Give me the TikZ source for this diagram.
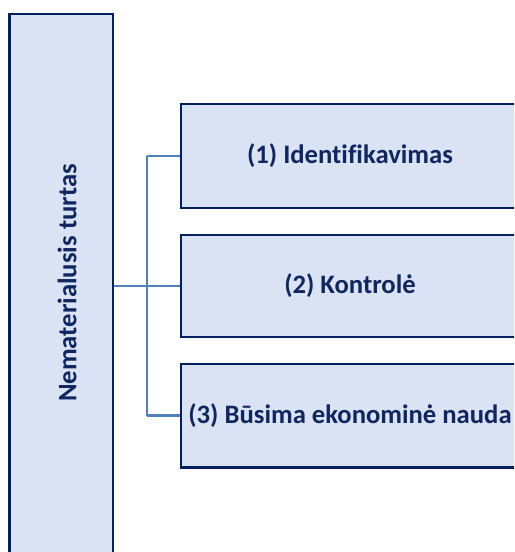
\documentclass[tikz,border=0pt]{standalone}
\usepackage{fontspec}
\setmainfont{Carlito}[Ligatures=NoCommon]
\definecolor{boxline}{RGB}{0,32,96}
\definecolor{boxfill}{RGB}{218,227,243}
\definecolor{linkline}{RGB}{79,129,189}
\definecolor{boxtext}{RGB}{15,38,96}
\tikzset{
  itembox/.style={rectangle, draw=boxline, fill=boxfill, line width=2.2pt, inner sep=0pt},
  itemtext/.style={text=boxtext, font=\fontsize{20}{24}\selectfont\bfseries},
  link/.style={draw=linkline, line width=1.6pt}
}
\begin{document}
\begin{tikzpicture}[x=0.75pt,y=-0.75pt]
\useasboundingbox (0,0) rectangle (514,552);
\clip (0,0) rectangle (514,552);
\node[itembox, minimum width=77.6pt, minimum height=420pt] (box0) at (61.25,294){};
\node[itemtext, rotate=90] (lbl0) at (67,283){Nematerialusis turtas};
\node[itembox, minimum width=253.5pt, minimum height=78pt, itemtext] (box1) at (350,156){(1) Identifikavimas};
\node[itembox, minimum width=253.5pt, minimum height=76.5pt, itemtext] (box2) at (350,286){(2) Kontrolė};
\node[itembox, minimum width=253.5pt, minimum height=77.3pt, itemtext] (box3) at (350,415.5){(3) Būsima ekonominė nauda};
\coordinate (fork1) at (147,156);
\coordinate (fork2) at (147,286);
\coordinate (fork3) at (147,415.5);
\draw[link](box0.east |- box2) -- (box2.west);
\draw[link](fork1) -- (fork3);
\draw[link](fork1) -- (box1.west);
\draw[link](fork3) -- (box3.west);
\end{tikzpicture}
\end{document}
